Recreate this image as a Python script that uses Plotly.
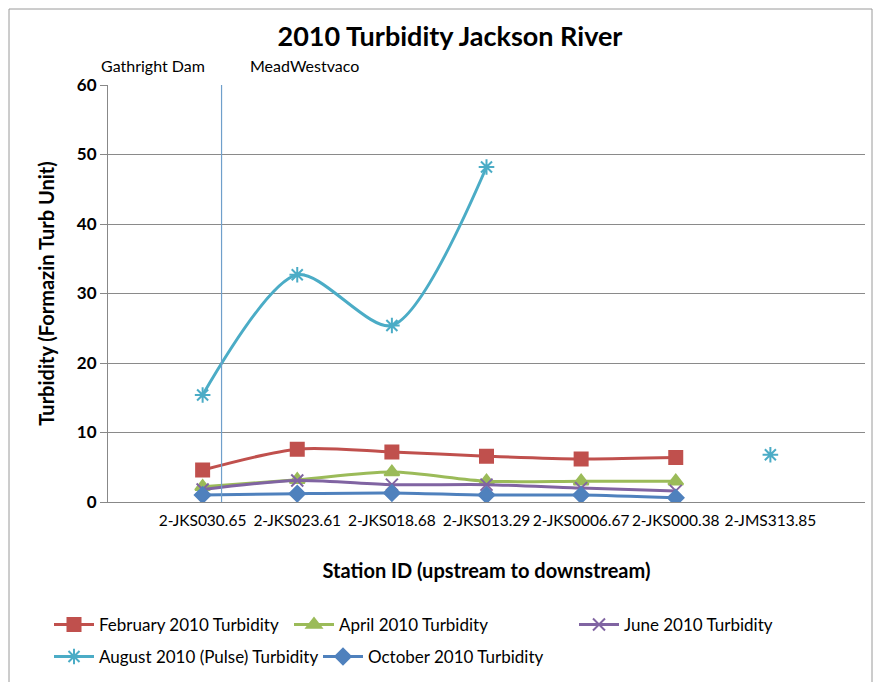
import plotly.graph_objects as go

stations = ["2-JKS030.65", "2-JKS023.61", "2-JKS018.68", "2-JKS013.29",
            "2-JKS0006.67", "2-JKS000.38", "2-JMS313.85"]
feb = [4.6, 7.6, 7.2, 6.6, 6.2, 6.4, None]
apr = [2.2, 3.2, 4.3, 3.0, 3.0, 3.0, None]
jun = [1.8, 3.1, 2.5, 2.5, 2.0, 1.6, None]
aug = [15.4, 32.7, 25.4, 48.2, None, None, 6.8]
octo = [1.0, 1.2, 1.3, 1.0, 1.0, 0.6, None]
y_ticks = [0, 10, 20, 30, 40, 50, 60]

FONT = "Lato, Open Sans, sans-serif"
xs = list(range(len(stations)))

# page has an 8px body margin: page coords -> figure coords subtract 8
OFF = 8
# plot area in page coords: x 108..865, y 85..502
PW, PH = 757.0, 417.0
def px(x):
    return (x - 108) / PW
def py(y):
    return (502 - y) / PH

series = [
    ("February 2010 Turbidity", feb, "#C0504D", "square", 13, "legend", 49, 625),
    ("April 2010 Turbidity", apr, "#9BBB59", "triangle-up", 13, "legend2", 289, 625),
    ("June 2010 Turbidity", jun, "#8064A2", "x-thin-open", 12, "legend3", 574, 625),
    ("August 2010 (Pulse) Turbidity", aug, "#4BACC6", "asterisk-open", 13, "legend4", 49, 657),
    ("October 2010 Turbidity", octo, "#4F81BD", "diamond", 12, "legend5", 318, 657),
]

fig = go.Figure()
legends = {}
for name, vals, col, sym, sz, lg, lx, ly in series:
    fig.add_trace(go.Scatter(
        x=xs, y=vals, name=name, mode="lines+markers", legend=lg,
        line=dict(color=col, width=3, shape="spline", smoothing=0.8),
        marker=dict(symbol=sym, size=sz, color=col,
                    line=dict(color=col, width=2)),
        connectgaps=False,
    ))
    legends[lg] = dict(x=px(lx), xanchor="left", y=py(ly), yanchor="middle",
                       orientation="h", itemwidth=40, bgcolor="rgba(0,0,0,0)",
                       font=dict(family=FONT, size=17, color="#000"))

fig.add_shape(type="line", xref="x", yref="y", x0=0.2, x1=0.2, y0=0, y1=60,
              line=dict(color="#6F9FCB", width=1.2))
fig.add_shape(type="rect", xref="paper", yref="paper",
              x0=px(9), x1=px(872), y0=py(700), y1=py(9),
              line=dict(color="#9A9A9A", width=1))

fig.add_annotation(x=-0.52, y=py(65), xref="x", yref="paper", yanchor="middle",
                   text="Gathright Dam", showarrow=False,
                   font=dict(family=FONT, size=16, color="#000"))
fig.add_annotation(x=1.08, y=py(65), xref="x", yref="paper", yanchor="middle",
                   text="MeadWestvaco", showarrow=False,
                   font=dict(family=FONT, size=16, color="#000"))

fig.update_layout(
    width=881, height=682,
    margin=dict(l=108 - OFF, r=881 - (865 - OFF), t=85 - OFF, b=682 - (502 - OFF),
                autoexpand=False),
    paper_bgcolor="white", plot_bgcolor="white",
    title=dict(text="<b>2010 Turbidity Jackson River</b>", xref="container",
               x=(450 - OFF) / 881, xanchor="center",
               y=1 - (37 - OFF) / 682, yanchor="middle",
               font=dict(family=FONT, size=27, color="#000")),
    showlegend=True,
    xaxis=dict(range=[-1, 7], tickvals=xs, ticktext=stations, tickangle=0,
               showgrid=False, automargin=False, ticklabelstandoff=4,
               showline=True, linecolor="#888", zeroline=False, ticks="",
               tickfont=dict(family=FONT, size=15.5, color="#000"),
               title=dict(text="<b>Station ID (upstream to downstream)</b>",
                          font=dict(family=FONT, size=20, color="#000"), standoff=36)),
    yaxis=dict(range=[0, 60], tickvals=y_ticks, showgrid=True, gridcolor="#8A8A8A",
               gridwidth=1, showline=True, linecolor="#888", ticks="outside",
               ticklen=7, tickcolor="#888", zeroline=False, automargin=False,
               ticktext=["<b>%d</b>" % v for v in y_ticks],
               tickfont=dict(family=FONT, size=17, color="#000"),
               title=dict(text="<b>Turbidity (Formazin Turb Unit)</b>",
                          font=dict(family=FONT, size=20, color="#000"), standoff=16)),
)
fig.update_layout(**legends)

fig.write_html("out.html")
